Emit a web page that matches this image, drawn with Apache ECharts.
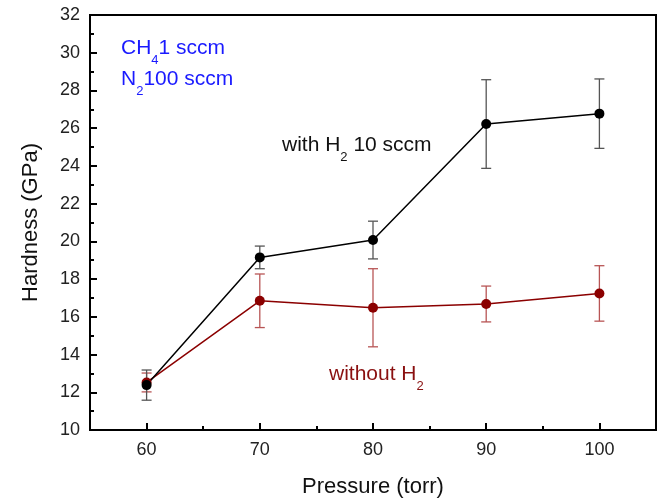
<!DOCTYPE html>
<html>
<head>
<meta charset="utf-8">
<script src="https://cdn.jsdelivr.net/npm/echarts@6/dist/echarts.min.js"></script>
<style>
  html, body { margin: 0; padding: 0; background: #fff; }
  #main { width: 664px; height: 503px; }
</style>
</head>
<body>
<div id="main"></div>
<script>
// data
const pressure = [60, 70, 80, 90, 100];
const withH2 = [12.38, 19.15, 20.07, 26.22, 26.77];
const withH2Err = [0.8, 0.6, 1.0, 2.35, 1.84];
const withoutH2 = [12.52, 16.85, 16.48, 16.68, 17.24];
const withoutH2Err = [0.5, 1.42, 2.07, 0.95, 1.47];

const xMajorTicks = [60, 70, 80, 90, 100];
const xMinorTicks = [65, 75, 85, 95];

const FONT = "'Liberation Sans', Arial, sans-serif";

let chart = echarts.init(document.getElementById("main"));

function errData(ys, errs) {
  return pressure.map((x, i) => [x, ys[i] - errs[i], ys[i] + errs[i]]);
}

function errSeries(ys, errs, color) {
  return {
    type: "custom",
    xAxisIndex: 0,
    yAxisIndex: 0,
    silent: true,
    data: errData(ys, errs),
    renderItem: function (params, api) {
      const lo = api.coord([api.value(0), api.value(1)]);
      const hi = api.coord([api.value(0), api.value(2)]);
      const hw = 5;
      const st = { stroke: color, lineWidth: 1.3 };
      return {
        type: "group",
        children: [
          { type: "line", shape: { x1: lo[0], y1: lo[1], x2: hi[0], y2: hi[1] }, style: st },
          { type: "line", shape: { x1: lo[0] - hw, y1: lo[1], x2: lo[0] + hw, y2: lo[1] }, style: st },
          { type: "line", shape: { x1: hi[0] - hw, y1: hi[1], x2: hi[0] + hw, y2: hi[1] }, style: st },
        ],
      };
    },
  };
}

// rich text styles for subscripts (zrender style -> fill)
function richStyle(color) {
  return {
    b: { fontSize: 21, fontFamily: FONT, fill: color, lineHeight: 36 },
    s: { fontSize: 13, fontFamily: FONT, fill: color, lineHeight: 13, verticalAlign: "bottom" },
  };
}

chart.setOption({
  animation: false,
  backgroundColor: "#fff",
  grid: {
    left: 90,
    right: 8,
    top: 15,
    bottom: 73,
    show: true,
    borderColor: "#000",
    borderWidth: 2,
  },
  xAxis: [
    {
      type: "value",
      min: 55,
      max: 105,
      name: "Pressure (torr)",
      nameLocation: "middle",
      nameGap: 46,
      nameTextStyle: { fontSize: 22, fontFamily: FONT, color: "#111", verticalAlign: "top" },
      axisLine: { show: true, lineStyle: { color: "#000", width: 2 } },
      axisTick: { show: true, inside: true, length: 7, customValues: xMajorTicks, lineStyle: { color: "#000", width: 2 } },
      axisLabel: { customValues: xMajorTicks, fontSize: 18, fontFamily: FONT, color: "#222", margin: 11 },
      splitLine: { show: false },
    },
    {
      type: "value",
      min: 55,
      max: 105,
      position: "bottom",
      axisLine: { show: false },
      axisTick: { show: true, inside: true, length: 4, customValues: xMinorTicks, lineStyle: { color: "#000", width: 2 } },
      axisLabel: { show: false },
      splitLine: { show: false },
    },
  ],
  yAxis: {
    type: "value",
    min: 10,
    max: 32,
    interval: 2,
    name: "Hardness (GPa)",
    nameLocation: "middle",
    nameGap: 48,
    nameTextStyle: { fontSize: 22, fontFamily: FONT, color: "#111" },
    axisLine: { show: true, lineStyle: { color: "#000", width: 2 } },
    axisTick: { show: true, inside: true, length: 7, lineStyle: { color: "#000", width: 2 } },
    minorTick: { show: true, splitNumber: 2, length: 4, lineStyle: { color: "#000", width: 2 } },
    axisLabel: { fontSize: 18, fontFamily: FONT, color: "#222", margin: 10 },
    splitLine: { show: false },
  },
  graphic: [
    {
      type: "text", left: 121, top: 38,
      style: { text: "{b|CH}{s|4}{b|1 sccm}", fill: "#1a1aff", rich: richStyle("#1a1aff") },
    },
    {
      type: "text", left: 121, top: 69,
      style: { text: "{b|N}{s|2}{b|100 sccm}", fill: "#1a1aff", rich: richStyle("#1a1aff") },
    },
    {
      type: "text", left: 282, top: 135,
      style: { text: "{b|with H}{s|2}{b| 10 sccm}", fill: "#111", rich: richStyle("#111") },
    },
    {
      type: "text", left: 329, top: 364,
      style: { text: "{b|without H}{s|2}", fill: "#8a1010", rich: richStyle("#8a1010") },
    },
  ],
  series: [
    errSeries(withoutH2, withoutH2Err, "#b85555"),
    {
      name: "without H2",
      type: "line",
      data: pressure.map((x, i) => [x, withoutH2[i]]),
      symbol: "circle",
      symbolSize: 10,
      lineStyle: { color: "#8b0000", width: 1.5 },
      itemStyle: { color: "#8b0000" },
    },
    errSeries(withH2, withH2Err, "#555"),
    {
      name: "with H2",
      type: "line",
      data: pressure.map((x, i) => [x, withH2[i]]),
      symbol: "circle",
      symbolSize: 10,
      lineStyle: { color: "#000", width: 1.5 },
      itemStyle: { color: "#000" },
    },
  ],
});
</script>
</body>
</html>
